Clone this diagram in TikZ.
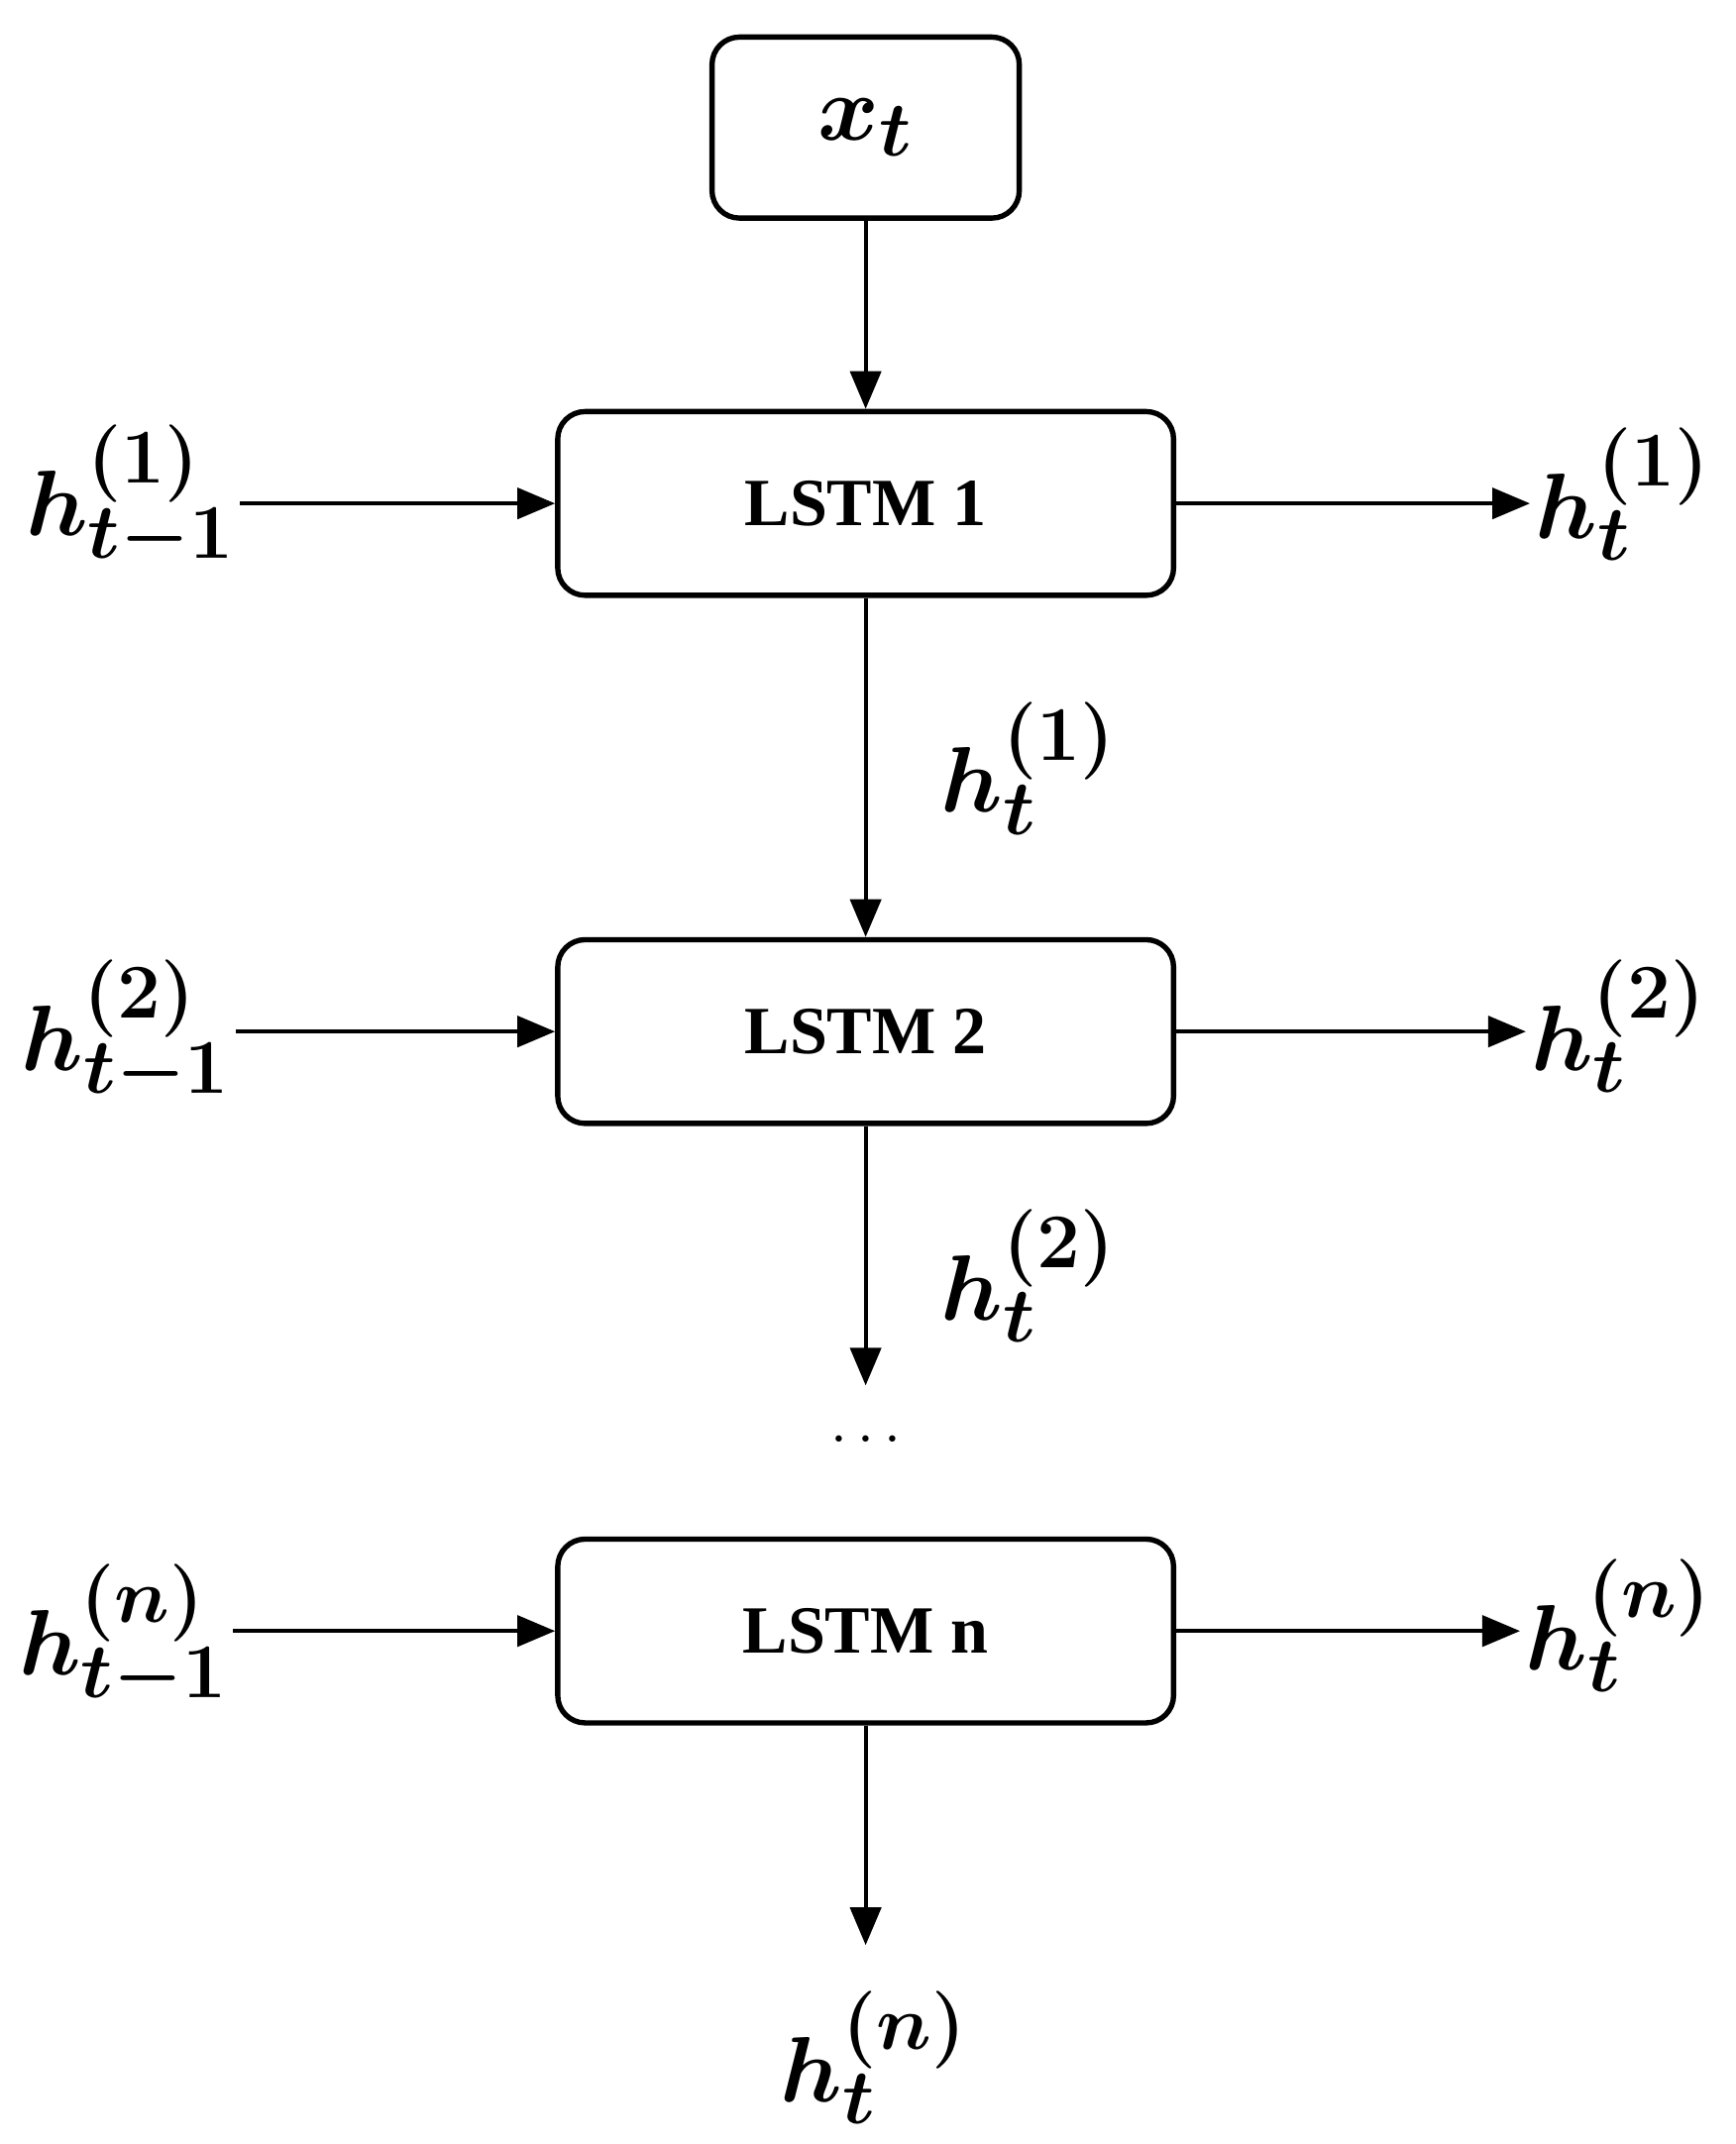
\documentclass[tikz,border=0pt]{standalone}
\usepackage{fontspec}
\usepackage{graphicx}
\setmainfont{Liberation Serif}
\usetikzlibrary{arrows.meta}
\newcommand{\mylab}[1]{\scalebox{1.55}{\Huge\boldmath$#1$}}
\begin{document}
\begin{tikzpicture}[x=0.02cm,y=-0.02cm,
  box/.style={draw,line width=2.2pt,rounded corners=0.4cm,minimum width=8.98cm,minimum height=2.68cm,font=\fontsize{28}{32}\selectfont\bfseries},
  arr/.style={line width=1.6pt,-{Triangle[length=0.55cm,width=0.45cm]}},
  lab/.style={inner sep=2pt}]
\useasboundingbox (0,0) rectangle (1265,1563);
\node[box,minimum width=4.48cm,minimum height=2.64cm] (x) at (631,93) {\mylab{x_t}};
\node[box] (l1) at (631,367) {LSTM 1};
\node[box] (l2) at (631,752) {LSTM 2};
\node[box] (ln) at (631,1189) {LSTM n};
\node[lab] (a1) at (95,362) {\mylab{h_{t-1}^{(1)}}};
\node[lab] (a2) at (92,752) {\mylab{h_{t-1}^{(2)}}};
\node[lab] (an) at (90,1193) {\mylab{h_{t-1}^{(n)}}};
\node[lab] (b1) at (1183,360) {\mylab{h_{t}^{(1)}}};
\node[lab] (b2) at (1180,748) {\mylab{h_{t}^{(2)}}};
\node[lab] (bn) at (1180,1185) {\mylab{h_{t}^{(n)}}};
\node[lab] at (750,560) {\mylab{h_{t}^{(1)}}};
\node[lab] at (750,930) {\mylab{h_{t}^{(2)}}};
\node[lab] (o) at (637,1500) {\mylab{h_{t}^{(n)}}};
\node[font=\fontsize{28}{32}\selectfont] (d) at (631,1050) {$\cdots$};
\coordinate (e2) at (631,1010);
\coordinate (en) at (631,1418);
\foreach \i in {1,2,n}{
  \draw[arr] (a\i.east|-l\i.west) -- (l\i.west);
  \draw[arr] (l\i.east) -- (b\i.west|-l\i.east);
}
\draw[arr] (x) -- (l1);
\draw[arr] (l1) -- (l2);
\draw[arr] (l2) -- (e2);
\draw[arr] (ln) -- (en);
\end{tikzpicture}
\end{document}
